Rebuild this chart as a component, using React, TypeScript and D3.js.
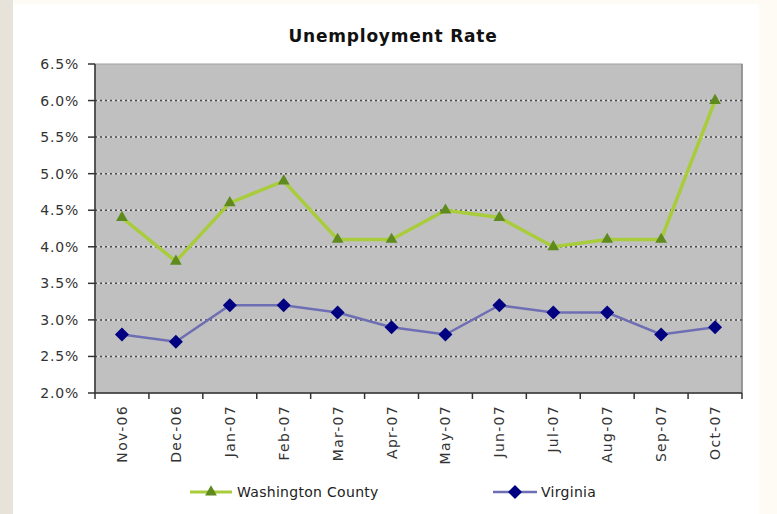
import React from "react";
import * as d3 from "d3";

const categories = ["Nov-06","Dec-06","Jan-07","Feb-07","Mar-07","Apr-07","May-07","Jun-07","Jul-07","Aug-07","Sep-07","Oct-07"];
const washington = [4.4, 3.8, 4.6, 4.9, 4.1, 4.1, 4.5, 4.4, 4.0, 4.1, 4.1, 6.0];
const virginia = [2.8, 2.7, 3.2, 3.2, 3.1, 2.9, 2.8, 3.2, 3.1, 3.1, 2.8, 2.9];
const yTicks = [2.0, 2.5, 3.0, 3.5, 4.0, 4.5, 5.0, 5.5, 6.0, 6.5];
const title = "Unemployment Rate";
const seriesNames = ["Washington County", "Virginia"];

const W = 777, H = 514;
const L = 95, R = 742, T = 64, B = 393;
const FONT = "'DejaVu Sans', sans-serif";

export default function App() {
  const x = d3.scaleBand<string>().domain(categories).range([L, R]);
  const y = d3.scaleLinear().domain([2.0, 6.5]).range([B, T]);
  const cx = (c: string) => (x(c) as number) + x.bandwidth() / 2;
  const line = d3.line<number>().x((_, i) => cx(categories[i])).y(d => y(d));
  const tri = d3.symbol().type(d3.symbolTriangle).size(60)() as string;
  const dia = (s: number) => `M0,${-s}L${s},0L0,${s}L${-s},0Z`;
  const boundaries = d3.range(categories.length + 1).map(i => L + i * x.step());

  return (
    <div style={{ position: "absolute", left: 0, top: 0 }}>
      <svg width={W} height={H} style={{ display: "block" }}>
        <rect x={0} y={0} width={W} height={H} fill="#fdfbf3" />
        <rect x={0} y={0} width={13} height={H} fill="#e7e3da" />
        <rect x={13} y={4} width={746} height={H - 4} fill="#ffffff" />
        <text x={393} y={42} textAnchor="middle" fontFamily={FONT} fontWeight="bold" fontSize={17} letterSpacing={0.8} fill="#111">{title}</text>
        <rect x={L} y={T} width={R - L} height={B - T} fill="#c0c0c0" stroke="#a0a0a0" strokeWidth={1} />
        <line x1={R} y1={T} x2={R} y2={B} stroke="#8a8a8a" strokeWidth={1.5} />
        {yTicks.filter(t => t > 2.0 && t < 6.5).map(t => (
          <g key={"g" + t}>
            <line x1={L} x2={R} y1={y(t)} y2={y(t)} stroke="#e4e4e4" strokeWidth={1.5} strokeDasharray="2,3" strokeDashoffset={2.5} />
            <line x1={L} x2={R} y1={y(t)} y2={y(t)} stroke="#4a4a4a" strokeWidth={1.5} strokeDasharray="2,3" />
          </g>
        ))}
        <line x1={L} x2={L} y1={T} y2={B} stroke="#333" strokeWidth={1.5} />
        <line x1={L} x2={R} y1={B} y2={B} stroke="#333" strokeWidth={1.5} />
        {yTicks.map(t => (
          <g key={"t" + t}>
            <line x1={L - 7} x2={L} y1={y(t)} y2={y(t)} stroke="#333" strokeWidth={1.5} />
            <text x={79} y={y(t) + 5} textAnchor="end" fontFamily={FONT} fontSize={14} letterSpacing={0.8} fill="#333">{t.toFixed(1)}%</text>
          </g>
        ))}
        {boundaries.map((b, i) => (
          <line key={"b" + i} x1={b} x2={b} y1={B} y2={B + 6} stroke="#333" strokeWidth={1.5} />
        ))}
        {categories.map(c => (
          <text key={c} transform={`translate(${cx(c) + 5},${B + 12}) rotate(-90)`} textAnchor="end" fontFamily={FONT} fontSize={14} letterSpacing={1.3} fill="#333">{c}</text>
        ))}
        <path d={line(virginia) as string} fill="none" stroke="#6e6eb4" strokeWidth={2.5} />
        {virginia.map((v, i) => (
          <path key={"v" + i} d={dia(7)} transform={`translate(${cx(categories[i])},${y(v)})`} fill="#000080" />
        ))}
        <path d={line(washington) as string} fill="none" stroke="#a8cc3c" strokeWidth={3.5} />
        {washington.map((v, i) => (
          <path key={"w" + i} d={tri} transform={`translate(${cx(categories[i])},${y(v)})`} fill="#5e8a1e" />
        ))}
        <line x1={190} x2={232} y1={492} y2={492} stroke="#a8cc3c" strokeWidth={3} />
        <path d={tri} transform="translate(211,492)" fill="#5e8a1e" />
        <text x={237} y={497} fontFamily={FONT} fontSize={14} letterSpacing={0.3} fill="#222">{seriesNames[0]}</text>
        <line x1={493} x2={537} y1={492} y2={492} stroke="#6e6eb4" strokeWidth={2.5} />
        <path d={dia(7)} transform="translate(515,492)" fill="#000080" />
        <text x={541} y={497} fontFamily={FONT} fontSize={14} letterSpacing={0.3} fill="#222">{seriesNames[1]}</text>
      </svg>
    </div>
  );
}
